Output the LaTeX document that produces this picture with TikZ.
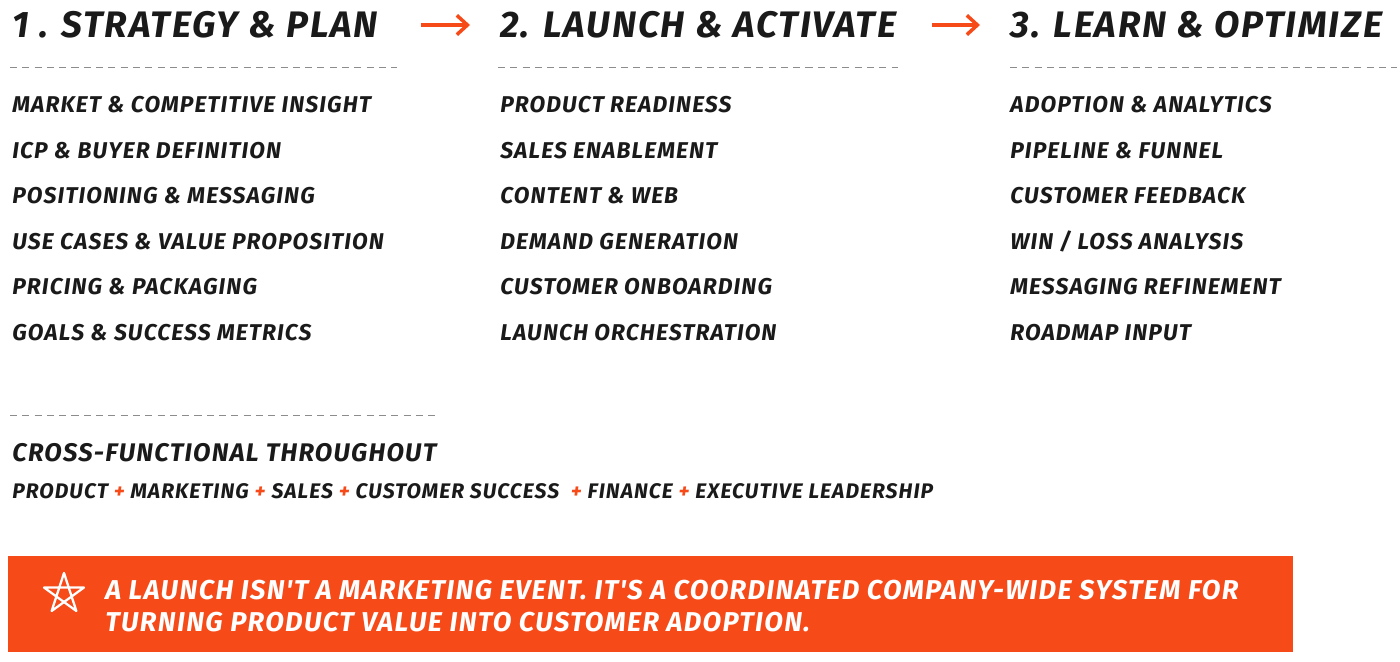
\documentclass[tikz,border=0pt]{standalone}
\usepackage{fontspec}
\setmainfont{Fira Sans}
\newfontfamily\handfont[LetterSpace=5]{Fira Sans}
\usetikzlibrary{positioning, arrows.meta, calc}
\definecolor{flame}{HTML}{F64A19}
\definecolor{ink}{HTML}{1A1A1A}

\begin{document}
\begin{tikzpicture}
    [x=0.02cm, y=-0.02cm, node distance=0.91cm, ink,
    heading/.style={anchor=west, inner sep=0pt, font=\handfont\fontsize{21}{21}\selectfont\bfseries\itshape},
    task/.style={anchor=west, inner sep=0pt, font=\handfont\fontsize{13}{13}\selectfont\bfseries\itshape},
    rule/.style={draw=black!45, dash pattern=on 4pt off 3pt, line width=0.5pt},
    flow/.style={draw=flame, line width=2pt, -{Straight Barb[length=6pt, width=11pt]}}]

    \useasboundingbox (0,0) rectangle (1400,662);

    % phase headings
    \node[heading] (h1) at (12,25) {1 . STRATEGY \& PLAN};
    \node[heading] (h2) at (500,25) {2. LAUNCH \& ACTIVATE};
    \node[heading] (h3) at (1010,25) {3. LEARN \& OPTIMIZE};
    \draw[flow, shorten <=0.85cm, shorten >=0.6cm] (h1.east) -- (h2.west);
    \draw[flow, shorten <=0.7cm, shorten >=0.6cm] (h2.east) -- (h3.west);

    \draw[rule] (10,67) -- (397,67);
    \draw[rule] (498,67) -- (898,67);
    \draw[rule] (1010,67) -- (1397,67);

    % column 1
    \node[task] (s1) at (12,105) {MARKET \& COMPETITIVE INSIGHT};
    \node[task] (s2) [below=of s1.west, anchor=west] {ICP \& BUYER DEFINITION};
    \node[task] (s3) [below=of s2.west, anchor=west] {POSITIONING \& MESSAGING};
    \node[task] (s4) [below=of s3.west, anchor=west] {USE CASES \& VALUE PROPOSITION};
    \node[task] (s5) [below=of s4.west, anchor=west] {PRICING \& PACKAGING};
    \node[task] (s6) [below=of s5.west, anchor=west] {GOALS \& SUCCESS METRICS};

    % column 2
    \node[task] (l1) at (500,105) {PRODUCT READINESS};
    \node[task] (l2) [below=of l1.west, anchor=west] {SALES ENABLEMENT};
    \node[task] (l3) [below=of l2.west, anchor=west] {CONTENT \& WEB};
    \node[task] (l4) [below=of l3.west, anchor=west] {DEMAND GENERATION};
    \node[task] (l5) [below=of l4.west, anchor=west] {CUSTOMER ONBOARDING};
    \node[task] (l6) [below=of l5.west, anchor=west] {LAUNCH ORCHESTRATION};

    % column 3
    \node[task] (o1) at (1010,105) {ADOPTION \& ANALYTICS};
    \node[task] (o2) [below=of o1.west, anchor=west] {PIPELINE \& FUNNEL};
    \node[task] (o3) [below=of o2.west, anchor=west] {CUSTOMER FEEDBACK};
    \node[task] (o4) [below=of o3.west, anchor=west] {WIN / LOSS ANALYSIS};
    \node[task] (o5) [below=of o4.west, anchor=west] {MESSAGING REFINEMENT};
    \node[task] (o6) [below=of o5.west, anchor=west] {ROADMAP INPUT};

    % cross-functional
    \draw[rule] (10,415) -- (440,415);
    \node[task, font=\handfont\fontsize{14.5}{14.5}\selectfont\bfseries\itshape] (cross) at (12,453) {CROSS-FUNCTIONAL THROUGHOUT};
    \node[task, font=\handfont\fontsize{12}{12}\selectfont\bfseries\itshape] (teams) at (12,491)
        {PRODUCT \textcolor{flame}{+} MARKETING \textcolor{flame}{+} SALES \textcolor{flame}{+} CUSTOMER SUCCESS \ \textcolor{flame}{+} FINANCE \textcolor{flame}{+} EXECUTIVE LEADERSHIP};

    % takeaway banner
    \node[fill=flame, minimum width=25.7cm, minimum height=1.92cm, inner sep=0pt] (banner) at (650.5,604) {};
    \node[task, white, align=left, font=\handfont\fontsize{15.5}{18.5}\selectfont\bfseries\itshape] (msg) at (105,606)
        {A LAUNCH ISN'T A MARKETING EVENT. IT'S A COORDINATED COMPANY-WIDE SYSTEM FOR\\
         TURNING PRODUCT VALUE INTO CUSTOMER ADOPTION.};
    \coordinate (star) at (64,594);
    \foreach \k in {0,...,4}
        \coordinate (p\k) at ($(star)+({-90+72*\k}:21)$);
    \draw[white, line width=1.3pt, line join=round] (p0) -- (p2) -- (p4) -- (p1) -- (p3) -- cycle;
\end{tikzpicture}
\end{document}
